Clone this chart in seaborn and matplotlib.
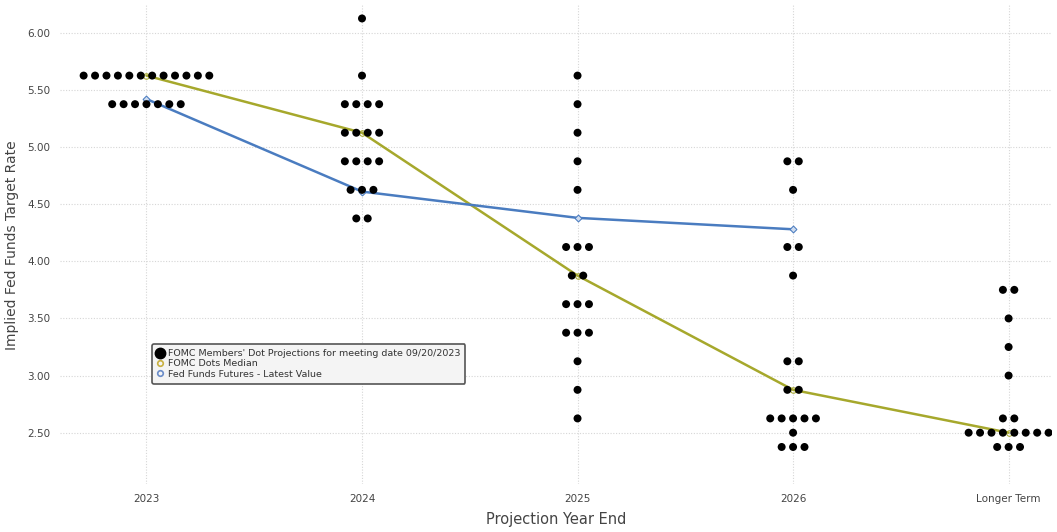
import matplotlib
matplotlib.use("Agg")
import matplotlib.pyplot as plt
from matplotlib.lines import Line2D
import seaborn as sns
import pandas as pd
from collections import Counter

# categories on the x axis
years = ["2023", "2024", "2025", "2026", "Longer Term"]

# FOMC members' dots, one value per participant
dots_2023 = [5.625] * 12 + [5.375] * 7
dots_2024 = [6.125] + [5.625] + [5.375] * 4 + [5.125] * 4 + [4.875] * 4 + [4.625] * 3 + [4.375] * 2
dots_2025 = [5.625, 5.375, 5.125, 4.875, 4.625] + [4.125] * 3 + [3.875] * 2 + [3.625] * 3 + [3.375] * 3 + [3.125, 2.875, 2.625]
dots_2026 = [4.875] * 2 + [4.625] + [4.125] * 2 + [3.875] + [3.125] * 2 + [2.875] * 2 + [2.625] * 5 + [2.5] + [2.375] * 3
dots_long = [3.75] * 2 + [3.5, 3.25, 3.0] + [2.625] * 2 + [2.5] * 8 + [2.375] * 3
all_dots = [dots_2023, dots_2024, dots_2025, dots_2026, dots_long]

median = [5.625, 5.125, 3.875, 2.875, 2.5]
futures = [5.42, 4.61, 4.38, 4.28]

dot_label = "FOMC Members' Dot Projections for meeting date 09/20/2023"
med_label = "FOMC Dots Median"
fut_label = "Fed Funds Futures - Latest Value"

# build dot table, spreading equal values side by side
rows = []
step = 0.053
for i, vals in enumerate(all_dots):
    for rate, n in Counter(vals).items():
        for k in range(n):
            rows.append({"x": i + (k - (n - 1) / 2) * step, "rate": rate})
dots_df = pd.DataFrame(rows)
med_df = pd.DataFrame({"x": range(len(years)), "rate": median})
fut_df = pd.DataFrame({"x": range(len(futures)), "rate": futures})

sns.set_style("white")
plt.rcParams["font.family"] = ["DejaVu Sans"]

olive = "#a6a82c"
blue = "#4a7cc0"

fig, ax = plt.subplots(figsize=(10.57, 5.32), dpi=100)
fig.subplots_adjust(left=0.057, right=0.995, top=0.99, bottom=0.09)

sns.lineplot(data=med_df, x="x", y="rate", ax=ax, color=olive, lw=1.8,
             marker="o", markersize=4, markerfacecolor="none", markeredgecolor=olive,
             zorder=2)
sns.lineplot(data=fut_df, x="x", y="rate", ax=ax, color=blue, lw=1.8,
             marker="D", markersize=3.5, markerfacecolor="#cfdcef", markeredgecolor=blue,
             zorder=3)
sns.scatterplot(data=dots_df, x="x", y="rate", ax=ax, color="black", s=33, edgecolor="none",
                zorder=4)

ax.set_xlim(-0.4, 4.2)
ax.set_ylim(2.05, 6.24)
ax.set_xticks(range(len(years)))
ax.set_xticklabels(years)
yt = [2.5, 3.0, 3.5, 4.0, 4.5, 5.0, 5.5, 6.0]
ax.set_yticks(yt)
ax.set_yticklabels([f"{v:.2f}" for v in yt])
ax.tick_params(axis="both", labelsize=7.5, colors="#444444", length=0, pad=7)
ax.grid(True, color="#d6d6d6", linestyle=(0, (1, 1.5)), lw=0.8)
sns.despine(left=True, bottom=True)

ax.set_xlabel("Projection Year End", fontsize=10.5, color="#444444", labelpad=6)
ax.set_ylabel("Implied Fed Funds Target Rate", fontsize=10, color="#444444", labelpad=6)

handles = [
    Line2D([], [], ls="none", marker="o", markersize=7.5, color="black"),
    Line2D([], [], ls="none", marker="o", markersize=4, markerfacecolor="none",
           markeredgecolor="#c8b040", markeredgewidth=1.2),
    Line2D([], [], ls="none", marker="o", markersize=4, markerfacecolor="none",
           markeredgecolor="#6a8cc8", markeredgewidth=1.2),
]
leg = ax.legend(handles, [dot_label, med_label, fut_label],
                loc="upper left", bbox_to_anchor=(0.088, 0.302), fontsize=6.8,
                frameon=True, fancybox=True, framealpha=1, edgecolor="#555555",
                handlelength=0.6, handletextpad=0.6, borderpad=0.5, labelspacing=0.15)
leg.get_frame().set_facecolor("#f4f4f4")
leg.get_frame().set_linewidth(1.2)
for t in leg.get_texts():
    t.set_color("#333333")

fig.savefig("out.png", dpi=100)
